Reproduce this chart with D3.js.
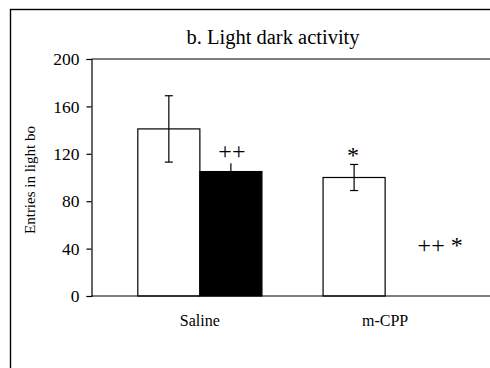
<!DOCTYPE html>
<html>
<head>
<meta charset="utf-8">
<script src="https://cdn.jsdelivr.net/npm/d3@7"></script>
<style>
body { margin: 0; background: #fff; }
svg text { font-family: "Liberation Serif", "Times New Roman", serif; fill: #000; }
</style>
</head>
<body>
<div id="grafica"></div>
<script>
// datos
var grupos = ["Saline", "m-CPP"];
var series = ["claro", "oscuro"];
var medias = [[141, 105], [100, 0]];
var errores = [[28, 7], [11, 0]];
var marcas = [
  { grupo: "Saline", serie: "oscuro", texto: "++", dx: 1, valor: 116 },
  { grupo: "m-CPP", serie: "claro", texto: "*", dx: -1, valor: 112 },
  { grupo: "m-CPP", serie: "oscuro", texto: "++ *", dx: 24, valor: 36 }
];
var ticksY = [0, 40, 80, 120, 160, 200];

var svg = d3.select("#grafica")
  .append("svg")
  .attr("width", 490)
  .attr("height", 368);

// marco exterior
svg.append("rect")
  .attr("x", 10.5).attr("y", 9.5)
  .attr("width", 520).attr("height", 400)
  .attr("fill", "none").attr("stroke", "#000").attr("stroke-width", 1.4);

var izq = 91.5, der = 490, arriba = 59, abajo = 296;

var y = d3.scaleLinear().domain([0, 200]).range([abajo, arriba]);
var x0 = d3.scaleBand().domain(grupos).range([izq, izq + 402]).paddingInner(0.33).paddingOuter(0.25);
var x1 = d3.scaleBand().domain(series).range([0, x0.bandwidth()]);

// titulo
svg.append("text")
  .attr("x", 273).attr("y", 44)
  .attr("text-anchor", "middle")
  .style("font-size", "20.5px")
  .text("b. Light dark activity");

// linea superior del area
svg.append("line")
  .attr("x1", izq).attr("x2", der)
  .attr("y1", arriba).attr("y2", arriba)
  .attr("stroke", "#000").attr("stroke-width", 1.2);

// barras
var barras = [];
grupos.forEach(function (g, i) {
  series.forEach(function (s, j) {
    barras.push({ grupo: g, serie: s, valor: medias[i][j], err: errores[i][j] });
  });
});

svg.selectAll("rect.barra")
  .data(barras.filter(function (d) { return d.valor > 0; }))
  .enter().append("rect")
  .attr("class", "barra")
  .attr("x", function (d) { return x0(d.grupo) + x1(d.serie); })
  .attr("y", function (d) { return y(d.valor); })
  .attr("width", x1.bandwidth())
  .attr("height", function (d) { return y(0) - y(d.valor); })
  .attr("fill", function (d) { return d.serie == "oscuro" ? "#000" : "#fff"; })
  .attr("stroke", "#000").attr("stroke-width", 1.2);

// barras de error (la oscura sin tope)
var conError = barras.filter(function (d) { return d.err > 0; });
var claras = conError.filter(function (d) { return d.serie != "oscuro"; });
var cx = function (d) { return x0(d.grupo) + x1(d.serie) + x1.bandwidth() / 2; };
svg.selectAll("line.err")
  .data(conError).enter().append("line")
  .attr("x1", cx).attr("x2", cx)
  .attr("y1", function (d) { return y(d.valor + d.err); })
  .attr("y2", function (d) { return y(d.serie == "oscuro" ? d.valor : d.valor - d.err); })
  .attr("stroke", "#000").attr("stroke-width", 1.2);
svg.selectAll("line.capsup")
  .data(claras).enter().append("line")
  .attr("x1", function (d) { return cx(d) - 4; })
  .attr("x2", function (d) { return cx(d) + 4; })
  .attr("y1", function (d) { return y(d.valor + d.err); })
  .attr("y2", function (d) { return y(d.valor + d.err); })
  .attr("stroke", "#000").attr("stroke-width", 1.2);
svg.selectAll("line.capinf")
  .data(claras).enter().append("line")
  .attr("x1", function (d) { return cx(d) - 4; })
  .attr("x2", function (d) { return cx(d) + 4; })
  .attr("y1", function (d) { return y(d.valor - d.err); })
  .attr("y2", function (d) { return y(d.valor - d.err); })
  .attr("stroke", "#000").attr("stroke-width", 1.2);

// ejes
var ejeY = svg.append("g")
  .attr("transform", "translate(" + izq + ",0)")
  .call(d3.axisLeft(y).tickValues(ticksY).tickSize(5).tickPadding(7));
ejeY.selectAll("line").attr("stroke-width", 1.2);
ejeY.select(".domain").attr("stroke-width", 1.2);
ejeY.selectAll("text").style("font-size", "17.5px").style("font-family", "Liberation Serif, serif");

svg.append("line")
  .attr("x1", izq).attr("x2", der)
  .attr("y1", abajo).attr("y2", abajo)
  .attr("stroke", "#000").attr("stroke-width", 1.2);

var ejeX = svg.append("g")
  .attr("transform", "translate(0," + abajo + ")")
  .call(d3.axisBottom(x0).tickSize(0).tickPadding(19));
ejeX.select(".domain").remove();
ejeX.selectAll("text").style("font-size", "16px").style("font-family", "Liberation Serif, serif");

// etiqueta del eje y
svg.append("text")
  .attr("transform", "translate(35,180) rotate(-90)")
  .attr("text-anchor", "middle")
  .style("font-size", "15px")
  .text("Entries in light bo");

// signos de significancia
svg.selectAll("text.marca")
  .data(marcas).enter().append("text")
  .attr("class", "marca")
  .attr("x", function (d) { return x0(d.grupo) + x1(d.serie) + x1.bandwidth() / 2 + d.dx; })
  .attr("y", function (d) { return y(d.valor); })
  .attr("text-anchor", "middle")
  .style("font-size", "24px")
  .text(function (d) { return d.texto; });
</script>
</body>
</html>
